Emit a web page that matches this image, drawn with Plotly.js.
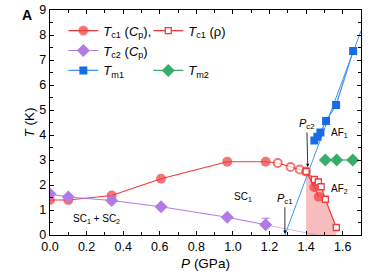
<!DOCTYPE html>
<html>
<head>
<meta charset="utf-8">
<script src="https://cdn.plot.ly/plotly-3.0.1.min.js"></script>
<style>html,body{margin:0;padding:0;background:#fff}#chart{width:389px;height:275px}</style>
</head>
<body>
<div id="chart"></div>
<script>
// Tc1 from specific heat (filled) + additional points (open circles)
const tc1CpP = [0.0, 0.1, 0.337, 0.607, 0.969, 1.179, 1.245, 1.315, 1.365, 1.40, 1.445, 1.469];
const tc1CpT = [1.40, 1.40, 1.58, 2.25, 2.93, 2.93, 2.88, 2.72, 2.62, 2.54, 1.91, 1.53];
const tc1CpOpen = [false, false, false, false, false, false, true, true, true, true, false, false];
// Tc1 from resistivity
const tc1RhoP = [1.40, 1.445, 1.467, 1.482, 1.505, 1.565];
const tc1RhoT = [2.54, 2.22, 2.12, 1.93, 1.43, 0.30];
// Tc2 from specific heat
const tc2P = [0.0, 0.1, 0.337, 0.607, 0.969, 1.179];
const tc2T = [1.64, 1.52, 1.38, 1.13, 0.71, 0.41];
const tc2ErrUp = [null, null, null, null, null, 0.26];
const tc2ExtP = [1.179, 1.46];
const tc2ExtT = [0.41, 0.0];
// Tm1
const tm1P = [1.445, 1.462, 1.478, 1.509, 1.564, 1.657];
const tm1T = [3.78, 3.93, 4.10, 4.56, 5.20, 7.36];
const tm1FitP = [1.284, 1.70];
const tm1FitT = [0.0, 8.17];
// Tm2
const tm2P = [1.505, 1.567, 1.655];
const tm2T = [3.0, 3.0, 3.0];
// axis ticks
const xTicks = [0.0, 0.2, 0.4, 0.6, 0.8, 1.0, 1.2, 1.4, 1.6];
const xTickText = ['0.0','0.2','0.4','0.6','0.8','1.0','1.2','1.4','1.6'];
const yTicks = [0,1,2,3,4,5,6,7,8,9];

const RED = 'rgb(240,58,58)';
const PURPLE = 'rgb(178,122,230)';
const BLUE = 'rgb(24,108,228)';
const BLUE_LINE = 'rgb(70,145,245)';
const GREEN = 'rgb(56,172,104)';
const FONT = 'Liberation Sans, Arial, sans-serif';

const traces = [
  { // AF2 + SC shaded region
    x: tc1RhoP, y: tc1RhoT, mode: 'lines', fill: 'tozeroy',
    fillcolor: 'rgb(248,190,190)', line: {width: 0, color: 'rgba(0,0,0,0)'},
    showlegend: false, hoverinfo: 'skip'
  },
  { x: tm1FitP, y: tm1FitT, mode: 'lines', line: {color: BLUE_LINE, width: 1}, showlegend: false },
  { x: tc2ExtP, y: tc2ExtT, mode: 'lines', line: {color: 'rgba(178,122,230,0.55)', width: 1}, showlegend: false },
  {
    name: '<i>T</i><sub>c1</sub> (<i>C</i><sub>p</sub>),', legend: 'legend',
    x: tc1CpP, y: tc1CpT, mode: 'lines+markers',
    line: {color: RED, width: 1.2},
    marker: {symbol: 'circle', size: tc1CpOpen.map(o => o ? 8 : 10),
      color: tc1CpOpen.map(o => o ? 'white' : RED),
      line: {color: RED, width: tc1CpOpen.map(o => o ? 1.8 : 0)}}
  },
  {
    name: '<i>T</i><sub>c2</sub> (<i>C</i><sub>p</sub>)', legend: 'legend',
    x: tc2P, y: tc2T, mode: 'lines+markers',
    line: {color: PURPLE, width: 1.2},
    marker: {symbol: 'diamond', size: 10, color: PURPLE},
    error_y: {type: 'data', symmetric: false, array: tc2ErrUp, arrayminus: tc2ErrUp.map(() => 0),
      color: PURPLE, thickness: 1.2, width: 4}
  },
  {
    name: '<i>T</i><sub>m1</sub>', legend: 'legend',
    x: tm1P, y: tm1T, mode: 'lines+markers',
    line: {color: BLUE_LINE, width: 1.2},
    marker: {symbol: 'square', size: 8, color: BLUE}
  },
  {
    name: '<i>T</i><sub>c1</sub> (ρ)', legend: 'legend2',
    x: tc1RhoP, y: tc1RhoT, mode: 'lines+markers',
    line: {color: RED, width: 1.2},
    marker: {symbol: 'square', size: 6, color: 'white', line: {color: RED, width: 1.3}}
  },
  {
    name: ' ', legend: 'legend2', x: [null], y: [null], mode: 'markers',
    marker: {size: 1, color: 'rgba(0,0,0,0)'}, hoverinfo: 'skip'
  },
  {
    name: '<i>T</i><sub>m2</sub>', legend: 'legend2',
    x: tm2P, y: tm2T, mode: 'lines+markers',
    line: {color: GREEN, width: 1.2},
    marker: {symbol: 'diamond', size: 10, color: GREEN}
  }
];

const axisCommon = {
  showgrid: false, zeroline: false, showline: true, linecolor: 'black', linewidth: 1.2,
  mirror: 'allticks', ticks: 'inside', ticklen: 4, tickwidth: 1, tickcolor: 'black',
  tickfont: {family: FONT, size: 12.5, color: 'black'}
};

const layout = {
  width: 389, height: 275,
  margin: {l: 50, r: 28, t: 10, b: 40},
  paper_bgcolor: 'white', plot_bgcolor: 'white',
  font: {family: FONT, size: 12, color: 'black'},
  xaxis: Object.assign({}, axisCommon, {
    range: [0, 1.7], tickvals: xTicks, ticktext: xTickText,
    minor: {dtick: 0.1, ticks: 'inside', ticklen: 3, tickcolor: 'black'},
    title: {text: '<i>P</i> (GPa)', font: {family: FONT, size: 13.5}, standoff: 5}
  }),
  yaxis: Object.assign({}, axisCommon, {
    range: [0, 9], tickvals: yTicks,
    minor: {dtick: 0.5, ticks: 'inside', ticklen: 3, tickcolor: 'black'},
    title: {text: '<i>T</i> (K)', font: {family: FONT, size: 13.5}, standoff: 1}
  }),
  legend: {x: 0.043, y: 0.975, xanchor: 'left', yanchor: 'top', bgcolor: 'rgba(0,0,0,0)',
    font: {family: FONT, size: 13}, tracegroupgap: 0},
  legend2: {x: 0.316, y: 0.975, xanchor: 'left', yanchor: 'top', bgcolor: 'rgba(0,0,0,0)',
    font: {family: FONT, size: 13}, tracegroupgap: 0},
  annotations: [
    {xref: 'paper', yref: 'paper', x: -0.075, y: 0.978, text: '<b>A</b>', showarrow: false,
      font: {family: FONT, size: 14}, xanchor: 'center', yanchor: 'middle'},
    {x: 0.252, y: 0.63, text: 'SC<sub>1</sub> + SC<sub>2</sub>', showarrow: false, font: {size: 10}},
    {x: 1.056, y: 1.53, text: 'SC<sub>1</sub>', showarrow: false, font: {size: 10}},
    {x: 1.584, y: 4.07, text: 'AF<sub>1</sub>', showarrow: false, font: {size: 10}},
    {x: 1.584, y: 1.83, text: 'AF<sub>2</sub>', showarrow: false, font: {size: 10}},
    {x: 1.409, y: 2.72, text: '<i>P</i><sub>c2</sub>', showarrow: true, ax: -1, ay: -43,
      arrowhead: 2, arrowsize: 0.8, arrowwidth: 0.8, arrowcolor: 'black', font: {size: 11}},
    {x: 1.284, y: 0.05, text: '<i>P</i><sub>c1</sub>', showarrow: true, ax: 0, ay: -35,
      arrowhead: 2, arrowsize: 0.8, arrowwidth: 0.8, arrowcolor: 'black', font: {size: 11}}
  ]
};

Plotly.newPlot('chart', traces, layout, {displayModeBar: false, staticPlot: true});
</script>
</body>
</html>
